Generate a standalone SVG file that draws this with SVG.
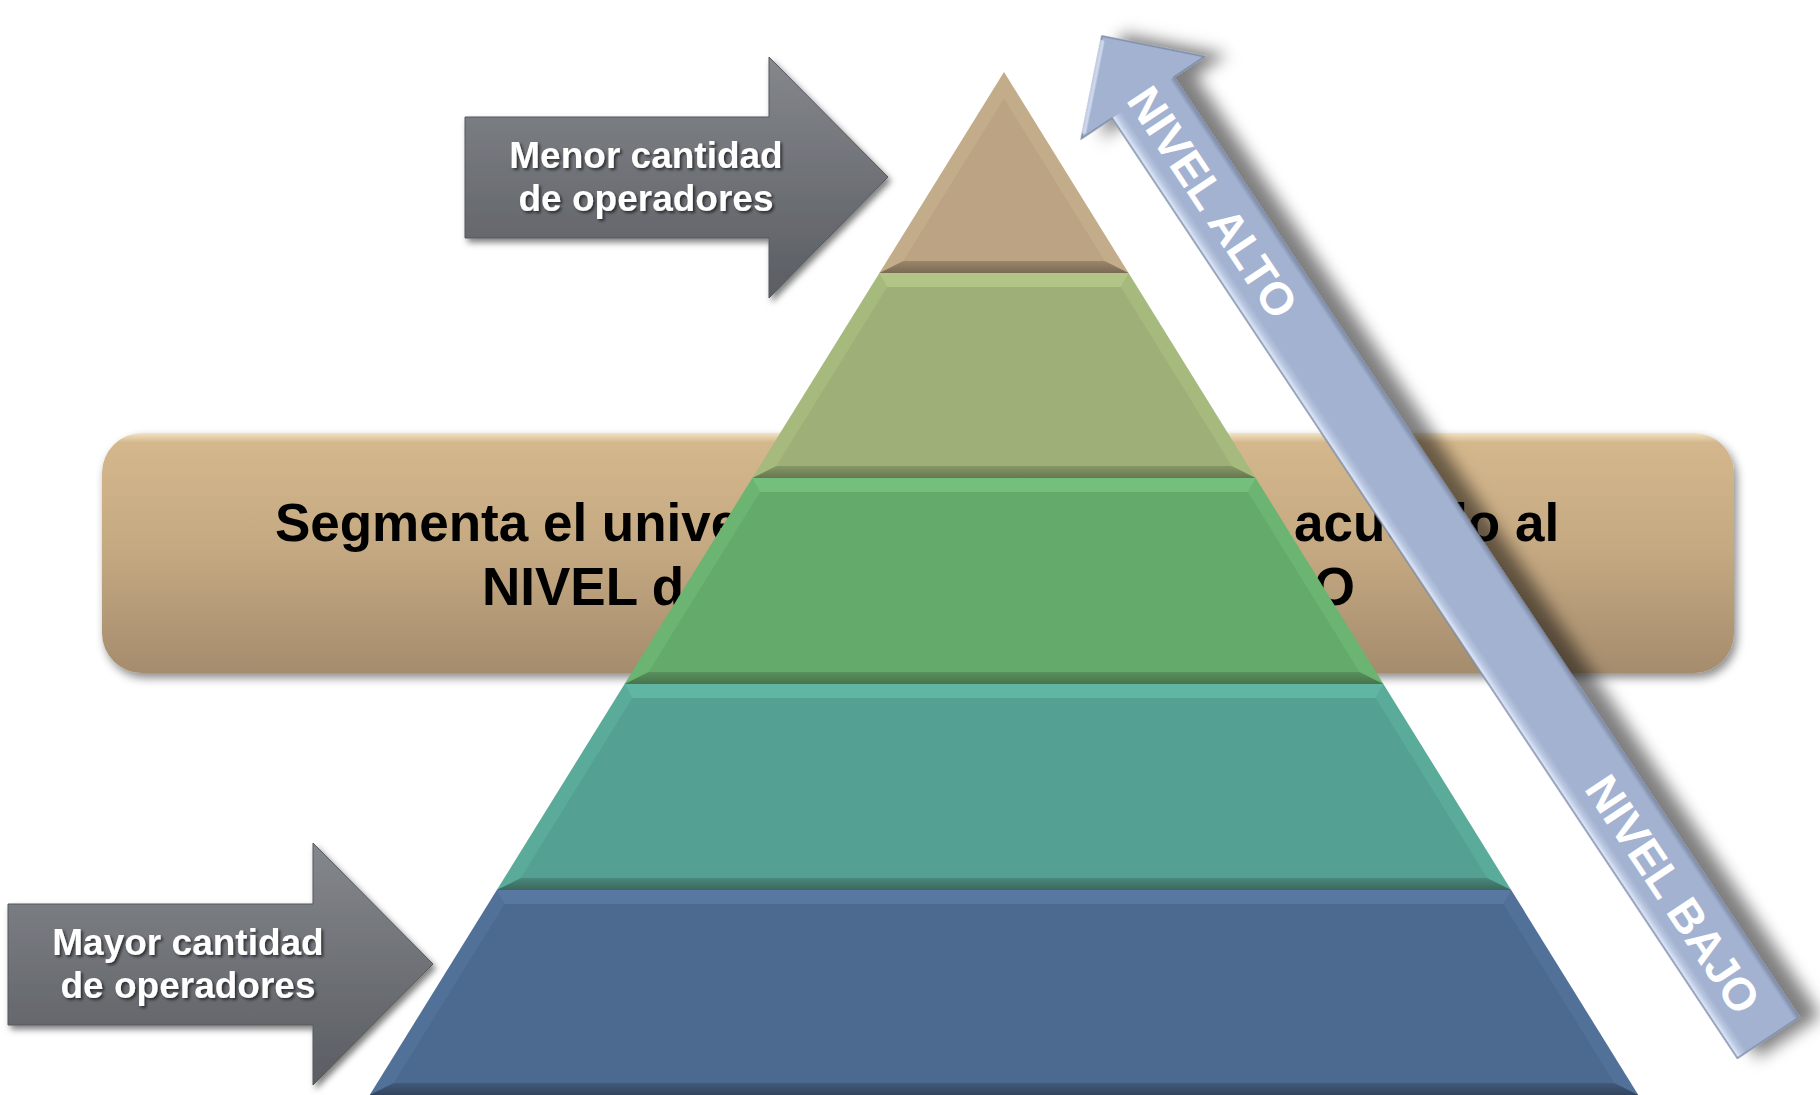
<svg xmlns="http://www.w3.org/2000/svg" width="1820" height="1095" viewBox="0 0 1820 1095">
<defs>
  <style>
    .bt{font-family:"Liberation Sans",Arial,sans-serif;font-weight:bold;font-size:53px;fill:#000}
    .gt{font-family:"Liberation Sans",Arial,sans-serif;font-weight:bold;font-size:37px;fill:#fff;text-anchor:middle}
    .nt{font-family:"Liberation Sans",Arial,sans-serif;font-weight:bold;font-size:46px;fill:#fff;text-anchor:middle}
  </style>
  <filter id="shBanner" x="-5%" y="-10%" width="110%" height="130%">
    <feDropShadow dx="3" dy="5" stdDeviation="5" flood-color="#000" flood-opacity="0.45"/>
  </filter>
  <filter id="shGray" x="-10%" y="-10%" width="125%" height="125%">
    <feDropShadow dx="3" dy="4" stdDeviation="3" flood-color="#000" flood-opacity="0.5"/>
  </filter>
  <filter id="shText" x="-10%" y="-20%" width="120%" height="150%">
    <feDropShadow dx="2" dy="2" stdDeviation="1.5" flood-color="#000" flood-opacity="0.6"/>
  </filter>
  <filter id="shBlue" x="-20%" y="-20%" width="140%" height="140%">
    <feDropShadow dx="10" dy="-18" stdDeviation="8" flood-color="#000" flood-opacity="0.5"/>
  </filter>
  <linearGradient id="gBanner" x1="0" y1="0" x2="0" y2="1">
    <stop offset="0" stop-color="#F3E3C2"/>
    <stop offset="0.04" stop-color="#D4B78C"/>
    <stop offset="0.5" stop-color="#C4A881"/>
    <stop offset="1" stop-color="#A58C6D"/>
  </linearGradient>
  <linearGradient id="gGray" x1="0" y1="0" x2="0" y2="1">
    <stop offset="0" stop-color="#84878C"/>
    <stop offset="1" stop-color="#5A5D62"/>
  </linearGradient>
  <linearGradient id="gBlue" gradientUnits="userSpaceOnUse" x1="0" y1="37" x2="0" y2="-37">
    <stop offset="0" stop-color="#E6EEFC"/>
    <stop offset="0.08" stop-color="#B8C6E0"/>
    <stop offset="0.16" stop-color="#A3B2D0"/>
    <stop offset="0.93" stop-color="#A3B2D0"/>
    <stop offset="1" stop-color="#7F8CA9"/>
  </linearGradient>
  <linearGradient id="d1" x1="0" y1="0" x2="0" y2="1"><stop offset="0" stop-color="#9A8769"/><stop offset="1" stop-color="#7A6A55"/></linearGradient>
  <linearGradient id="d2" x1="0" y1="0" x2="0" y2="1"><stop offset="0" stop-color="#869866"/><stop offset="1" stop-color="#66764F"/></linearGradient>
  <linearGradient id="d3" x1="0" y1="0" x2="0" y2="1"><stop offset="0" stop-color="#58905D"/><stop offset="1" stop-color="#48744C"/></linearGradient>
  <linearGradient id="d4" x1="0" y1="0" x2="0" y2="1"><stop offset="0" stop-color="#4A887C"/><stop offset="1" stop-color="#3A675D"/></linearGradient>
  <linearGradient id="d5" x1="0" y1="0" x2="0" y2="1"><stop offset="0" stop-color="#42597A"/><stop offset="1" stop-color="#32455F"/></linearGradient>
</defs>

<rect width="1820" height="1095" fill="#FFFFFF"/>

<g id="banner">
  <rect x="102" y="433" width="1632" height="240" rx="40" fill="url(#gBanner)" filter="url(#shBanner)"/>
  <text class="bt" x="917" y="541" text-anchor="middle">Segmenta el universo de operadores de acuerdo al</text>
  <text class="bt" x="482" y="605">NIVEL de</text>
  <text class="bt" x="1355" y="605" text-anchor="end">O</text>
</g>

<g id="pyramid">
  <g id="layer1">
    <polygon points="1004,72 1128.6,273 879.4,273" fill="#C3AC89"/>
    <polygon points="1004,98.6 1104.7,261 903.3,261" fill="#BBA383"/>
    <polygon points="879.4,273 1128.6,273 1104.7,261 903.3,261" fill="url(#d1)"/>
  </g>
  <g id="layer2">
    <polygon points="879.4,273 1128.6,273 1255.7,478 752.3,478" fill="#A6BA7E"/>
    <polygon points="879.4,273 1128.6,273 1120.8,287 887.2,287" fill="#B1C686"/>
    <polygon points="887.2,287 1120.8,287 1231.8,466 776.2,466" fill="#9EB077"/>
    <polygon points="752.3,478 1255.7,478 1231.8,466 776.2,466" fill="url(#d2)"/>
  </g>
  <g id="layer3">
    <polygon points="752.3,478 1255.7,478 1383.4,684 624.6,684" fill="#6BB472"/>
    <polygon points="752.3,478 1255.7,478 1247.9,492 760.1,492" fill="#74BF7B"/>
    <polygon points="760.1,492 1247.9,492 1359.5,672 648.5,672" fill="#64AA6B"/>
    <polygon points="624.6,684 1383.4,684 1359.5,672 648.5,672" fill="url(#d3)"/>
  </g>
  <g id="layer4">
    <polygon points="624.6,684 1383.4,684 1511.2,890 496.8,890" fill="#5AAB9A"/>
    <polygon points="624.6,684 1383.4,684 1375.6,698 632.4,698" fill="#60B5A3"/>
    <polygon points="632.4,698 1375.6,698 1487.2,878 520.8,878" fill="#54A092"/>
    <polygon points="496.8,890 1511.2,890 1487.2,878 520.8,878" fill="url(#d4)"/>
  </g>
  <g id="layer5">
    <polygon points="496.8,890 1511.2,890 1638.3,1095 369.7,1095" fill="#517198"/>
    <polygon points="496.8,890 1511.2,890 1503.3,904 504.7,904" fill="#5878A1"/>
    <polygon points="504.7,904 1503.3,904 1614.3,1083 393.7,1083" fill="#4C6A8F"/>
    <polygon points="369.7,1095 1638.3,1095 1614.3,1083 393.7,1083" fill="url(#d5)"/>
  </g>
</g>

<g id="connectors">
  <g id="arrow-nivel" transform="translate(1102,36) rotate(56.37)">
    <g filter="url(#shBlue)">
      <path d="M0,0 L74,-74 L74,-37 L1203,-37 L1203,37 L74,37 L74,74 Z" fill="#A3B2D0" stroke="#7A88A6" stroke-width="1.5"/>
      <rect x="74" y="-36.2" width="1128.2" height="72.4" fill="url(#gBlue)"/>
      <path d="M5,3 L70,68" stroke="#D6E0F4" stroke-width="4" stroke-linecap="round" opacity="0.8" fill="none"/>
    </g>
    <text class="nt" x="200" y="16">NIVEL ALTO</text>
    <text class="nt" x="1031" y="16">NIVEL BAJO</text>
  </g>
</g>

<g id="arrow-menor">
  <path d="M465,117 H769 V57 L888,177 L769,298 V238 H465 Z" fill="url(#gGray)" stroke="#55585C" stroke-width="1" filter="url(#shGray)"/>
  <g filter="url(#shText)">
    <text class="gt" x="646" y="168">Menor cantidad</text>
    <text class="gt" x="646" y="211">de operadores</text>
  </g>
</g>

<g id="arrow-mayor">
  <path d="M8,904 H313 V843 L433,964 L313,1085 V1025 H8 Z" fill="url(#gGray)" stroke="#55585C" stroke-width="1" filter="url(#shGray)"/>
  <g filter="url(#shText)">
    <text class="gt" x="188" y="955">Mayor cantidad</text>
    <text class="gt" x="188" y="998">de operadores</text>
  </g>
</g>
</svg>
